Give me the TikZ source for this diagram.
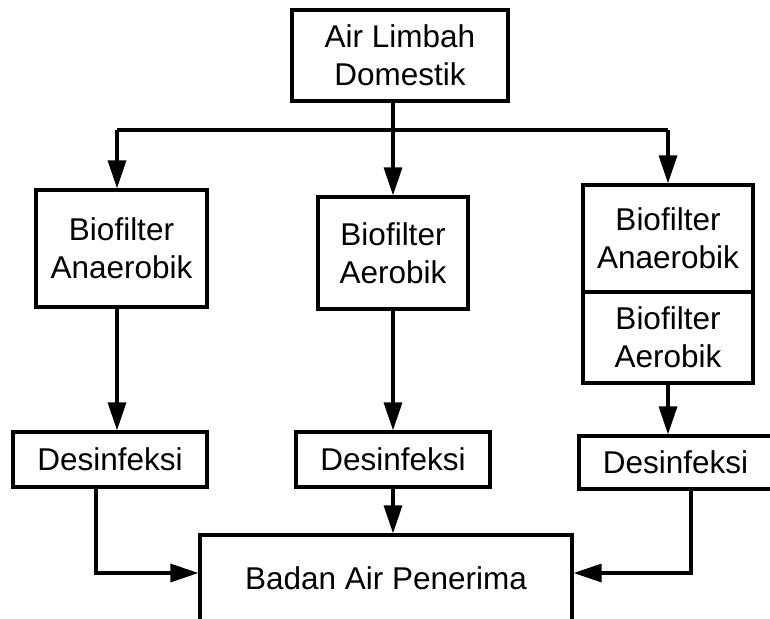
\documentclass[tikz,border=0pt]{standalone}
\usepackage{fontspec}
\setmainfont{Liberation Sans}
\usetikzlibrary{arrows.meta, positioning, calc}

\begin{document}
\begin{tikzpicture}[
			x=1pt, y=-1pt,
			every node/.style={align=center, font=\fontsize{31.5}{38}\selectfont},
			box/.style={draw, line width=3.2pt, inner sep=0pt},
			line/.style={line width=3.2pt},
			arrow/.style={line width=3.2pt, -{Triangle[length=28pt, width=18pt]}}
			]
			\useasboundingbox (0,0) rectangle (770,618);
			\clip (0,0) rectangle (770,618);
			% sumber
			\node[box, minimum width=216pt, minimum height=91pt] (limbah) at (400,55.5) {Air Limbah \\ Domestik};
			% tiga jalur pengolahan
			\node[box, minimum width=171pt, minimum height=117pt] (anaerob) at (121.5,248.5) {Biofilter \\ Anaerobik};
			\node[box, minimum width=150pt, minimum height=112pt] (aerob) at (393,253) {Biofilter \\ Aerobik};
			\node[box, minimum width=170pt, minimum height=107pt] (kombiA) at (668,238.5) {Biofilter \\ Anaerobik};
			\node[box, minimum width=170pt, minimum height=91pt] (kombiB) at (668,337.5) {Biofilter \\ Aerobik};
			% desinfeksi
			\node[box, minimum width=194pt, minimum height=55pt] (desL) at (110,459.5) {Desinfeksi};
			\node[box, minimum width=194pt, minimum height=55pt] (desM) at (393,459.5) {Desinfeksi};
			\node[box, minimum width=193pt, minimum height=53pt] (desR) at (675.5,462.5) {Desinfeksi};
			% penerima
			\node[box, minimum width=372pt, minimum height=86pt] (badan) at (386,578) {Badan Air Penerima};

			\coordinate (cabL) at (117,130);
			\coordinate (cabR) at (668,130);
			\coordinate (belokL) at (96,573);
			\coordinate (belokR) at (691,573);

			\draw[line] (cabL) -- (cabR);
			\draw[arrow] (limbah.south -| aerob.north) -- (aerob.north);
			\draw[arrow] (cabL) -- (cabL |- anaerob.north);
			\draw[arrow] (cabR) -- (kombiA.north);

			\draw[arrow] (anaerob.south -| cabL) -- (cabL |- desL.north);
			\draw[arrow] (aerob.south) -- (desM.north);
			\draw[arrow] (kombiB.south) -- (kombiB.south |- desR.north);

			\draw[arrow] (desL.south -| belokL) -- (belokL) -- (belokL -| badan.west);
			\draw[arrow] (desM.south) -- (desM.south |- badan.north);
			\draw[arrow] (desR.south -| belokR) -- (belokR) -- (belokR -| badan.east);
		\end{tikzpicture}
\end{document}
